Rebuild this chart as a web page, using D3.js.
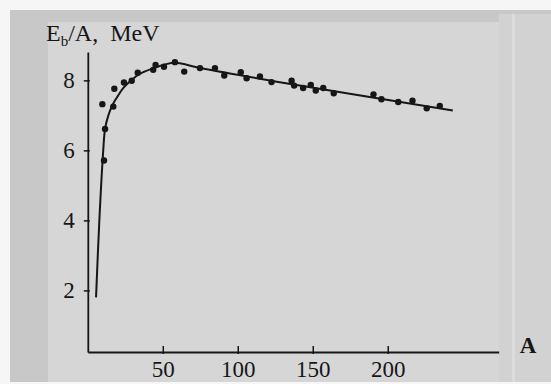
<!DOCTYPE html>
<html>
<head>
<meta charset="utf-8">
<script src="https://cdn.jsdelivr.net/npm/d3@7"></script>
<style>
  html, body { margin: 0; padding: 0; background: #f6f6f6; }
  svg { display: block; }
</style>
</head>
<body>
<div id="chart"></div>
<script>
// Measured binding energies (A, Eb/A in MeV)
const pointA = [9.7, 10.8, 11.5, 17, 17.7, 24.1, 29.3, 33.3, 43.6, 45.2, 50.8, 58.1, 64.3, 74.8, 84.8, 91, 102, 105.9,
  114.8, 122.5, 135.9, 137.6, 143.6, 148.7, 152, 157, 164, 190.5, 195.8, 207, 216.5, 226, 234.7];
const pointE = [7.32, 5.71, 6.61, 7.25, 7.76, 7.94, 7.99, 8.22, 8.3, 8.44, 8.39, 8.52, 8.25, 8.35, 8.35, 8.14, 8.23, 8.06,
  8.11, 7.95, 7.99, 7.85, 7.78, 7.87, 7.71, 7.78, 7.63, 7.6, 7.46, 7.38, 7.42, 7.2, 7.27];

// Smooth curve drawn through the points
const curveA = [5.5, 7.7, 10.3, 11.5, 13.7, 16.5, 20, 24, 29, 34, 44, 58, 75, 125, 243.4];
const curveE = [1.8, 4.0, 6.0, 6.61, 7.0, 7.3, 7.55, 7.8, 8.0, 8.17, 8.35, 8.5, 8.35, 7.97, 7.14];

const xTicks = [50, 100, 150, 200];
const yTicks = [2, 4, 6, 8];

const W = 551, H = 384;
const svg = d3.select('#chart').append('svg')
  .attr('width', W)
  .attr('height', H);

// scanned page look
svg.append('rect').attr('x', 0).attr('y', 0).attr('width', W).attr('height', H).attr('fill', '#f6f6f6');
svg.append('rect').attr('x', 10).attr('y', 10).attr('width', W - 10).attr('height', 372).attr('fill', '#c8c8c8');
svg.append('rect').attr('x', 499).attr('y', 14).attr('width', 52).attr('height', 368).attr('fill', '#d2d2d2');
svg.append('rect').attr('x', 512).attr('y', 14).attr('width', 3).attr('height', 368).attr('fill', '#dcdcdc');
svg.append('rect').attr('x', 48).attr('y', 22).attr('width', 451).attr('height', 360).attr('fill', '#d6d6d6');

const x = d3.scaleLinear().domain([0, 274]).range([87.8, 498.7]);
const y = d3.scaleLinear().domain([0.24, 8.81]).range([352, 52]);

const font = "'Liberation Serif', 'Times New Roman', serif";
const ink = '#161616';

// Y axis
const yAxis = svg.append('g')
  .attr('transform', `translate(${x(0)},0)`)
  .call(d3.axisLeft(y).tickValues(yTicks).tickSizeInner(4).tickSizeOuter(0).tickPadding(9))
  .attr('font-family', font)
  .attr('font-size', 23);
yAxis.select('.domain').attr('stroke', ink).attr('stroke-width', 1.8);
yAxis.selectAll('.tick line').attr('x1', 2).attr('x2', -4).attr('stroke', ink).attr('stroke-width', 1.5);
yAxis.selectAll('.tick text').attr('fill', ink);

// X axis
const xAxis = svg.append('g')
  .attr('transform', `translate(0,${y(0.24)})`)
  .call(d3.axisBottom(x).tickValues(xTicks).tickSizeInner(2).tickSizeOuter(0))
  .attr('font-family', font)
  .attr('font-size', 23);
xAxis.select('.domain').attr('stroke', ink).attr('stroke-width', 1.8);
xAxis.selectAll('.tick line').attr('y1', -6).attr('y2', 2).attr('stroke', ink).attr('stroke-width', 1.5);
xAxis.selectAll('.tick text').attr('y', 25).attr('dy', 0).attr('fill', ink);

// Axis titles
const yTitle = svg.append('text')
  .attr('x', 46)
  .attr('y', 40.5)
  .attr('font-family', font)
  .attr('font-size', 24)
  .attr('fill', ink);
yTitle.append('tspan').text('E');
yTitle.append('tspan').attr('dy', 5).attr('font-size', 15).text('b');
yTitle.append('tspan').attr('dy', -5).text('/A,\u00a0 MeV');

svg.append('text')
  .attr('x', 528)
  .attr('y', 353)
  .attr('text-anchor', 'middle')
  .attr('font-family', font)
  .attr('font-size', 23)
  .attr('font-weight', 'bold')
  .attr('fill', ink)
  .text('A');

// Curve
const curveData = curveA.map((a, i) => ({ a, e: curveE[i] }));
const line = d3.line()
  .x(d => x(d.a))
  .y(d => y(d.e))
  .curve(d3.curveCatmullRom.alpha(0.5));

svg.append('path')
  .datum(curveData)
  .attr('fill', 'none')
  .attr('stroke', ink)
  .attr('stroke-width', 2)
  .attr('d', line);

// Points
const pointData = pointA.map((a, i) => ({ a, e: pointE[i] }));
svg.selectAll('.pt')
  .data(pointData)
  .enter()
  .append('circle')
  .attr('class', 'pt')
  .attr('cx', d => x(d.a))
  .attr('cy', d => y(d.e))
  .attr('r', 3.2)
  .attr('fill', ink);
</script>
</body>
</html>
